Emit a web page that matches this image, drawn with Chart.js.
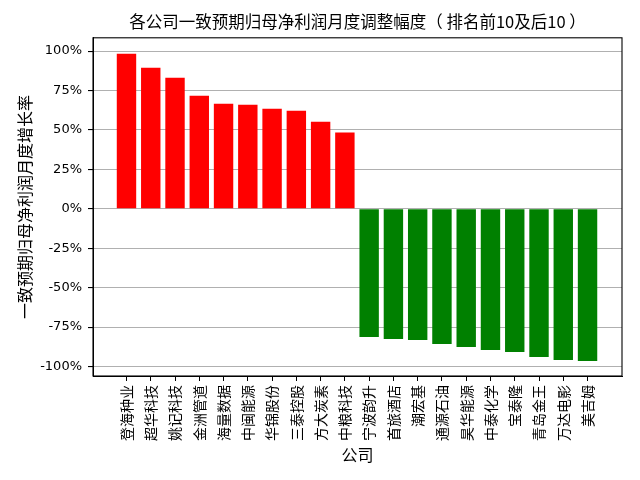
<!DOCTYPE html>
<html>
<head>
<meta charset="utf-8">
<script src="https://cdn.jsdelivr.net/npm/chart.js@4/dist/chart.umd.min.js"></script>
<style>
    html, body { margin: 0; padding: 0; background: #fff; }
    #wrap { width: 640px; height: 480px; }
</style>
</head>
<body>
<div id="wrap"><canvas id="chart" width="640" height="480"></canvas></div>
<script>
// Companies, top 10 and bottom 10
const companies = [
    '登海种业', '超华科技', '姚记科技', '金洲管道', '海量数据',
    '中闽能源', '华锦股份', '三泰控股', '方大炭素', '中粮科技',
    '宁波韵升', '首旅酒店', '潮宏基', '通源石油', '昊华能源',
    '中泰化学', '宝泰隆', '青岛金王', '万达电影', '美吉姆'
];

// Monthly adjustment, percent
const changes = [
    98.3, 89.4, 83.1, 71.7, 66.6, 65.9, 63.4, 62.2, 55.2, 48.3,
    -81.3, -82.5, -83.2, -85.7, -87.6, -89.5, -90.8, -93.9, -95.8, -96.5
];

const yTicks = [-100, -75, -50, -25, 0, 25, 50, 75, 100];

const barColors = changes.map(v => v >= 0 ? '#ff0000' : '#008000');

const tickFont = { family: 'DejaVu Sans, Noto Sans CJK SC', size: 13 };
const cjkFont = { family: 'Noto Sans CJK SC', size: 14 };

// matplotlib-style box round the plot area
const frame = {
    id: 'frame',
    afterDraw(chart) {
        const a = chart.chartArea;
        const ctx = chart.ctx;
        ctx.save();
        ctx.strokeStyle = '#000';
        ctx.lineWidth = 1.1;
        ctx.strokeRect(a.left, a.top, a.right - a.left, a.bottom - a.top);
        ctx.restore();
    }
};

new Chart(document.getElementById('chart'), {
    type: 'bar',
    data: {
        datasets: [{
            data: changes.map((v, i) => ({ x: i, y: v })),
            backgroundColor: barColors,
            borderWidth: 0,
            barPercentage: 0.8,
            categoryPercentage: 1.0
        }]
    },
    options: {
        responsive: false,
        animation: false,
        layout: { padding: { left: 0, right: 18, top: 0, bottom: 0 } },
        plugins: {
            legend: { display: false },
            tooltip: { enabled: false },
            title: {
                display: true,
                fullSize: false,
                text: '各公司一致预期归母净利润月度调整幅度（ 排名前10及后10 ）',
                color: '#000',
                font: { family: 'Noto Sans CJK SC', size: 16.5, weight: 'normal' },
                padding: { top: 12, bottom: 6 }
            }
        },
        scales: {
            x: {
                type: 'linear',
                offset: false,
                min: -1.38,
                max: 20.42,
                afterBuildTicks: scale => {
                    scale.ticks = companies.map((c, i) => ({ value: i }));
                },
                afterFit: scale => { scale.height = 104; },
                grid: {
                    offset: false,
                    drawOnChartArea: false,
                    drawTicks: true,
                    tickLength: 5,
                    tickColor: '#000'
                },
                border: { display: true, color: '#000' },
                ticks: {
                    autoSkip: false,
                    minRotation: 90,
                    maxRotation: 90,
                    padding: 4,
                    color: '#000',
                    font: cjkFont,
                    callback: v => companies[v]
                },
                title: {
                    display: true,
                    text: '公司',
                    color: '#000',
                    font: { family: 'Noto Sans CJK SC', size: 16 },
                    padding: { top: 0, bottom: 15 }
                }
            },
            y: {
                min: -106,
                max: 108.4,
                afterBuildTicks: scale => {
                    scale.ticks = yTicks.map(v => ({ value: v }));
                },
                afterFit: scale => { scale.width = 93; },
                grid: {
                    color: '#b0b0b0',
                    lineWidth: 1.1,
                    drawTicks: true,
                    tickLength: 5,
                    tickColor: '#000'
                },
                border: { display: true, color: '#000' },
                ticks: {
                    padding: 6,
                    color: '#000',
                    font: tickFont,
                    callback: v => v + '%'
                },
                title: {
                    display: true,
                    text: '一致预期归母净利润月度增长率',
                    color: '#000',
                    font: { family: 'Noto Sans CJK SC', size: 16 },
                    padding: { top: 15, bottom: 0 }
                }
            }
        }
    },
    plugins: [frame]
});
</script>
</body>
</html>
